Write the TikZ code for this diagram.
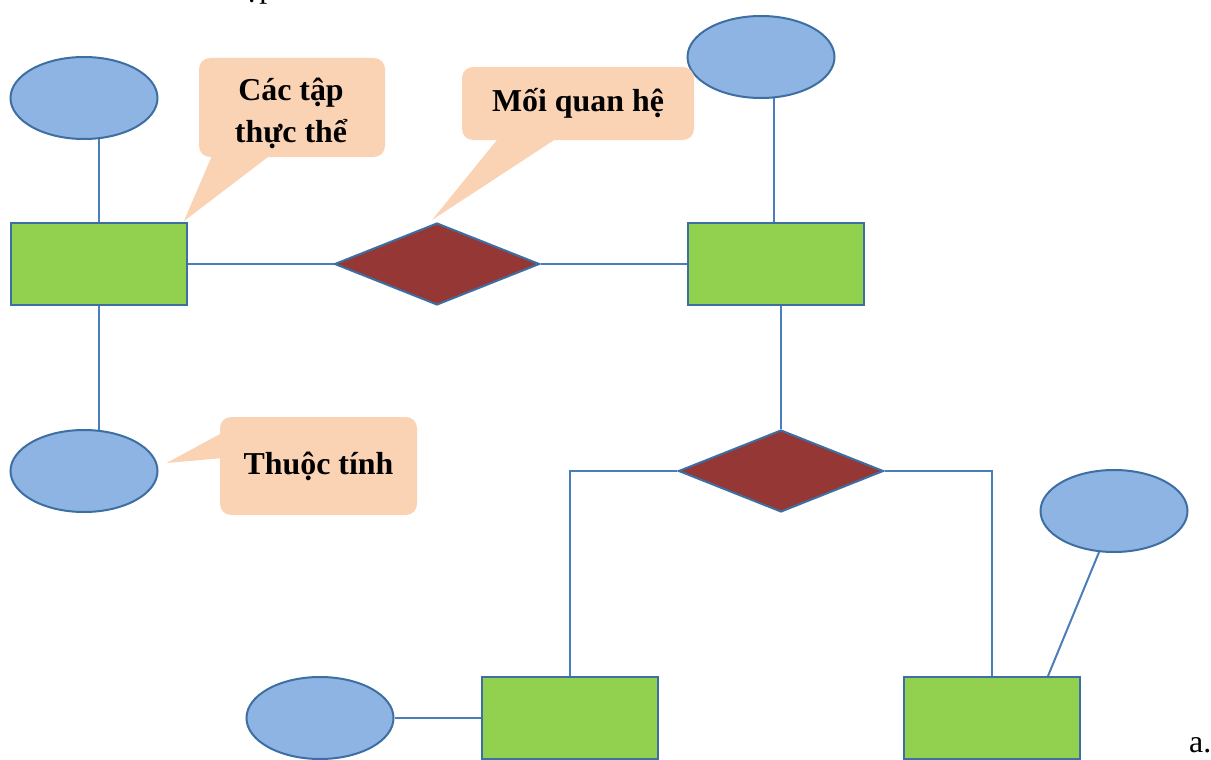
\documentclass[tikz,border=0pt]{standalone}
\usepackage{fontspec}
\setmainfont{Liberation Serif}
\usetikzlibrary{shapes.geometric,backgrounds}
\definecolor{ellfill}{HTML}{8EB4E3}
\definecolor{shapeline}{HTML}{3D6FA3}
\definecolor{edge}{HTML}{4A7EBB}
\definecolor{rectfill}{HTML}{92D050}
\definecolor{diafill}{HTML}{953735}
\definecolor{callfill}{HTML}{FAD3B4}
\begin{document}
\begin{tikzpicture}[x=1bp,y=-1bp,
  attr/.style={ellipse, draw=shapeline, fill=ellfill, line width=2bp, minimum width=147bp, minimum height=82bp, inner sep=0pt},
  entity/.style={rectangle, draw=shapeline, fill=rectfill, line width=2bp, minimum width=176bp, minimum height=82bp, inner sep=0pt},
  rel/.style={diamond, draw=shapeline, fill=diafill, line width=2bp, minimum width=205bp, minimum height=82bp, inner sep=0pt},
  conn/.style={draw=edge, line width=2bp},
  callout/.style={fill=callfill, rounded corners=11bp, inner sep=0pt, font=\fontsize{32}{42}\selectfont\bfseries, align=center},
  plain/.style={font=\fontsize{32}{38}\selectfont, inner sep=0pt}]
\useasboundingbox (0,0) rectangle (1211,760);

% partial text at top edge
\node[plain, anchor=base west] (frag) at (245,-2) {ập};

% entities, relationships, attributes
\node[attr] (e1) at (84,98) {};
\node[entity] (r1) at (99,264) {};
\node[attr] (e2) at (84,471) {};
\node[rel] (d1) at (437,264) {};
\node[entity] (r2) at (776,264) {};
\node[attr] (e3) at (761,57) {};
\node[rel] (d2) at (781,471) {};
\node[entity] (r3) at (570,718) {};
\node[entity] (r4) at (992,718) {};
\node[attr] (e4) at (1114,511) {};
\node[attr] (e5) at (320,718) {};

\begin{scope}[on background layer]
\draw[conn] (r1.north) -- (r1.north |- e1.center);
\draw[conn] (r1.south) -- (r1.south |- e2.center);
\draw[conn] (r1) -- (d1) -- (r2);
\draw[conn] ([xshift=-2bp]r2.north) -- ([xshift=-2bp]r2.north |- e3.center);
\draw[conn] (d2.north) -- (d2.north |- r2.center);
\draw[conn] (d2) -| (r3);
\draw[conn] (d2) -| (r4);
\draw[conn] (e5) -- (r3);
\draw[conn] (e4.250) -- ([xshift=56bp]r4.north);
\end{scope}

% callouts
\node[callout, minimum width=186bp, minimum height=99bp] (c1) at (292,107.5) {};
\node[callout, font=\fontsize{32}{42}\selectfont\bfseries] (t1) at (291,113) {Các tập\\thực thể};
\fill[callfill] ([xshift=-79bp,yshift=4bp]c1.south) -- ([xshift=-19bp,yshift=4bp]c1.south) -- ([xshift=-4bp,yshift=1bp]r1.north east) -- cycle;

\node[callout, minimum width=232bp, minimum height=73bp] (c2) at (578,103.5) {Mối quan hệ};
\fill[callfill] ([xshift=-78bp,yshift=4bp]c2.south) -- ([xshift=-18bp,yshift=4bp]c2.south) -- ([xshift=-5bp,yshift=2bp]d1.north) -- cycle;

\node[callout, minimum width=197bp, minimum height=98bp] (c3) at (318.5,466) {Thuộc tính};
\fill[callfill] ([xshift=4bp,yshift=34bp]c3.west) -- ([xshift=4bp,yshift=8bp]c3.west) -- ([xshift=8bp,yshift=8bp]e2.east) -- cycle;

\node[plain, anchor=base west] (lbl) at (1189,752) {a.};
\end{tikzpicture}
\end{document}
